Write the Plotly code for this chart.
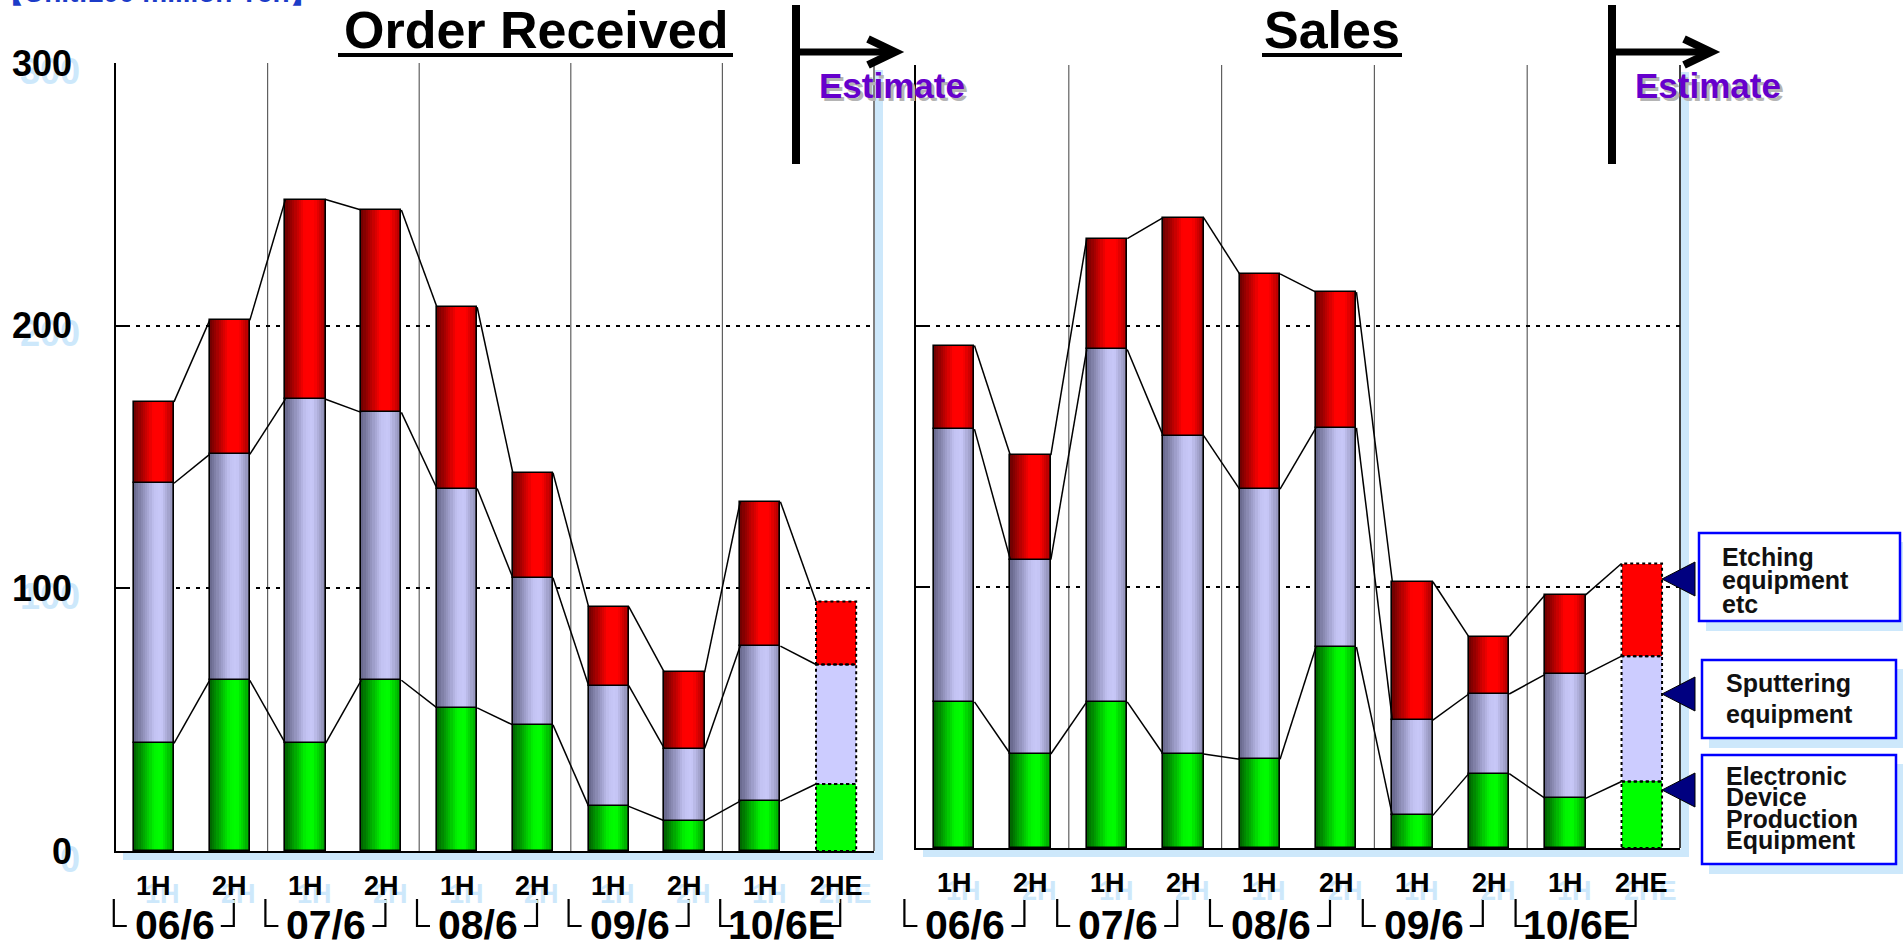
import plotly.graph_objects as go

W, H = 1903, 950

# ---- data (100 million yen) ----
periods = ["1H", "2H", "1H", "2H", "1H", "2H", "1H", "2H", "1H", "2HE"]
years = ["06/6", "07/6", "08/6", "09/6", "10/6E"]

order_device = [41, 65, 41, 65, 54.5, 48, 17, 11.5, 19, 25.5]
order_sputter = [99, 86, 131, 102, 83.5, 56, 46, 27.5, 59, 45.5]
order_etching = [31, 51, 76, 77, 69, 40, 30, 29, 55, 24]

sales_device = [56, 36, 56, 36, 34, 77, 12.5, 28.5, 19, 25.5]
sales_sputter = [104.5, 74.5, 135, 122, 103.5, 84, 36.5, 30.5, 47.5, 48]
sales_etching = [32, 40, 42.5, 83.5, 82.5, 52, 53, 22, 30.5, 35.5]

legend_labels = [
    ["Etching", "equipment", "etc"],
    ["Sputtering", "equipment"],
    ["Electronic", "Device", "Production", "Equipment"],
]

# ---- styling ----
FONT = "Arial, Liberation Sans, sans-serif"
SHADOW = "#cde8fb"
BW = 0.53          # bar width in category units
NSTRIPE = 18       # stripes used to shade each bar like a cylinder

GRAD_GREEN = [(0, "#006000"), (0.5, "#00f400"), (0.68, "#00ff00"), (1, "#009800")]
GRAD_PURPLE = [(0, "#66668a"), (0.5, "#c2c2f2"), (0.68, "#c8c8f8"), (1, "#8888ae")]
GRAD_RED = [(0, "#6a0000"), (0.48, "#ff0000"), (0.72, "#ff0000"), (1, "#a00000")]
FLAT = {"green": "#00ff00", "purple": "#ccccff", "red": "#ff0000"}


def px(x):
    return x / W


def py(y):
    return 1 - y / H


def hex2rgb(h):
    h = h.lstrip("#")
    return [int(h[i:i + 2], 16) for i in (0, 2, 4)]


def grad(stops, t):
    for (t0, c0), (t1, c1) in zip(stops[:-1], stops[1:]):
        if t0 <= t <= t1:
            f = 0 if t1 == t0 else (t - t0) / (t1 - t0)
            a, b = hex2rgb(c0), hex2rgb(c1)
            r = [round(a[i] + (b[i] - a[i]) * f) for i in range(3)]
            return "rgb(%d,%d,%d)" % tuple(r)
    return stops[-1][1]


fig = go.Figure()

# plot areas in pixel terms: (left, right, y of 0, y of 300)
PANELS = {
    "left": dict(x0=116, x1=874, y0=851, y300=63, xa="x", ya="y"),
    "right": dict(x0=916, x1=1680, y0=848, y300=65, xa="x2", ya="y2"),
}


def add_panel(p, device, sputter, etching):
    n = len(periods)
    xs = list(range(n))
    xa, ya = p["xa"], p["ya"]
    segs = [(device, GRAD_GREEN, FLAT["green"]),
            (sputter, GRAD_PURPLE, FLAT["purple"]),
            (etching, GRAD_RED, FLAT["red"])]
    base = [0.0] * n
    levels = []
    for vals, stops, flat in segs:
        top = [b + v for b, v in zip(base, vals)]
        sw = BW / NSTRIPE
        for k in range(NSTRIPE):
            t = (k + 0.5) / NSTRIPE
            w = sw if k == NSTRIPE - 1 else sw * 1.6
            fig.add_bar(x=xs[:-1], y=vals[:-1], base=base[:-1], width=w,
                        offset=-BW / 2 + k * sw,
                        marker=dict(color=grad(stops, t), line=dict(width=0)),
                        xaxis=xa, yaxis=ya, showlegend=False, hoverinfo="skip")
        # outlines of the actual bars
        fig.add_bar(x=xs[:-1], y=vals[:-1], base=base[:-1], width=BW, offset=-BW / 2,
                    marker=dict(color="rgba(0,0,0,0)", line=dict(color="black", width=1.6)),
                    xaxis=xa, yaxis=ya, showlegend=False, hoverinfo="skip")
        # estimate bar: flat fill with dashed outline
        fig.add_bar(x=[xs[-1]], y=[vals[-1]], base=[base[-1]], width=BW, offset=-BW / 2,
                    marker=dict(color=flat, line=dict(width=0)),
                    xaxis=xa, yaxis=ya, showlegend=False, hoverinfo="skip")
        xl, xr = xs[-1] - BW / 2, xs[-1] + BW / 2
        fig.add_scatter(x=[xl, xr, xr, xl, xl], y=[base[-1], base[-1], top[-1], top[-1], base[-1]],
                        mode="lines", line=dict(color="black", width=2, dash="3px,3px"),
                        xaxis=xa, yaxis=ya, showlegend=False, hoverinfo="skip")
        levels.append(top)
        base = top
    # series lines joining consecutive bar tops
    for top in levels:
        lx, ly = [], []
        for i in range(n - 1):
            lx += [xs[i] + BW / 2, xs[i + 1] - BW / 2, None]
            ly += [top[i], top[i + 1], None]
        fig.add_scatter(x=lx, y=ly, mode="lines", line=dict(color="black", width=1.5),
                        xaxis=xa, yaxis=ya, showlegend=False, hoverinfo="skip")


add_panel(PANELS["left"], order_device, order_sputter, order_etching)
add_panel(PANELS["right"], sales_device, sales_sputter, sales_etching)

shapes = []
annotations = []


def line(x0, y0, x1, y1, color="black", width=2, layer="above"):
    shapes.append(dict(type="line", xref="paper", yref="paper",
                       x0=px(x0), y0=py(y0), x1=px(x1), y1=py(y1),
                       line=dict(color=color, width=width), layer=layer))


def rect(x0, y0, x1, y1, fill, lc=None, lw=0, layer="above"):
    shapes.append(dict(type="rect", xref="paper", yref="paper",
                       x0=px(x0), y0=py(y0), x1=px(x1), y1=py(y1),
                       fillcolor=fill, line=dict(color=lc or fill, width=lw), layer=layer))


def path(points, fill=None, lc="black", lw=1, closed=False):
    d = "M " + " L ".join("%f,%f" % (px(x), py(y)) for x, y in points)
    if closed:
        d += " Z"
    shapes.append(dict(type="path", xref="paper", yref="paper", path=d,
                       fillcolor=fill if fill else "rgba(0,0,0,0)",
                       line=dict(color=lc, width=lw)))


def text(s, x, y, size, color="black", xanchor="center", xref="paper", yref="paper",
         xshift=0, yshift=0, weight="bold"):
    annotations.append(dict(text=s, x=x, y=y, xref=xref, yref=yref, xanchor=xanchor,
                            yanchor="middle", showarrow=False, xshift=xshift, yshift=yshift,
                            font=dict(family=FONT, size=size, color=color, weight=weight)))


axis_layout = {}
for key, p in PANELS.items():
    xa_name = "xaxis" if p["xa"] == "x" else "xaxis2"
    ya_name = "yaxis" if p["ya"] == "y" else "yaxis2"
    axis_layout[xa_name] = dict(domain=[px(p["x0"]), px(p["x1"])], range=[-0.5, len(periods) - 0.5],
                                showticklabels=False, showgrid=False, zeroline=False,
                                showline=True, linecolor="black", linewidth=2,
                                anchor=p["ya"], fixedrange=True)
    axis_layout[ya_name] = dict(domain=[py(p["y0"]), py(p["y300"])], range=[0, 300],
                                tickvals=[0, 100, 200, 300], showticklabels=False,
                                ticks="inside", ticklen=13, tickwidth=1.5, tickcolor="black",
                                showgrid=True, gridcolor="black", gridwidth=1.6, griddash="4px,6px",
                                zeroline=False, showline=True, linecolor="black", linewidth=2,
                                anchor=p["xa"], fixedrange=True)

    # light-blue drop shadow along bottom and right of the plot frame
    rect(p["x0"] + 7, p["y0"] + 1, p["x1"] + 9, p["y0"] + 9, SHADOW, layer="below")
    rect(p["x1"] + 1, p["y300"] + 7, p["x1"] + 9, p["y0"] + 9, SHADOW, layer="below")

    # year separators and right border
    for xv in [1.5, 3.5, 5.5, 7.5]:
        shapes.append(dict(type="line", xref=p["xa"], yref=p["ya"] + " domain", x0=xv, x1=xv,
                           y0=0, y1=1, line=dict(color="#606060", width=1.2), layer="below"))
    shapes.append(dict(type="line", xref=p["xa"] + " domain", yref=p["ya"] + " domain", x0=1, x1=1,
                       y0=0, y1=1, line=dict(color="#555555" if key == "left" else "black", width=1.5)))

    # half-year labels with their light-blue shadow
    lab_y = py(p["y0"] + 35)
    for i, s in enumerate(periods):
        text(s, i, lab_y, 27, color=SHADOW, xref=p["xa"], xshift=9, yshift=-8)
    for i, s in enumerate(periods):
        text(s, i, lab_y, 27, xref=p["xa"])

    # fiscal-year labels with corner brackets
    slot = (p["x1"] - p["x0"]) / len(periods)
    off = -17 if key == "left" else -27
    for g, yr in enumerate(years):
        cx = p["x0"] + (2 * g + 1) * slot + off
        text(yr, px(cx), py(925), 41)
        path([(cx - 61, 899), (cx - 61, 926), (cx - 48, 926)], lw=2.2)
        path([(cx + 46, 926), (cx + 59, 926), (cx + 59, 899)], lw=2.2)

# y tick labels (left panel only) with shadow
for v in [0, 100, 200, 300]:
    yy = py(851 - v * (851 - 63) / 300)
    text(str(v), px(74), yy, 36, color=SHADOW, xanchor="right", xshift=8, yshift=-8)
    text(str(v), px(74), yy, 36, xanchor="right")

# titles
text("Order Received", px(535.5), py(30), 52)
line(338, 55, 733, 55, width=4)
text("Sales", px(1332), py(30), 52)
line(1262, 55, 1402, 55, width=4)

# unit note, mostly above the top edge
text("【Unit:100 million Yen】", px(320), py(-8), 28, color="#1c3cc8", xanchor="right")

# "Estimate" markers
for vx, tx in [(796, 817), (1612, 1633)]:
    line(vx, 5, vx, 164, width=8)
    line(vx, 52, vx + 98, 52, width=7)
    path([(vx + 72, 39), (vx + 99, 52), (vx + 72, 65)], lw=8)
    text("Estimate", px(tx), py(85), 35, color="#b4b4b4", xanchor="left", xshift=3, yshift=-3)
    text("Estimate", px(tx), py(85), 35, color="#6600cc", xanchor="left")

# legend callouts
boxes = [
    dict(box=(1699, 533, 1900, 621), tri=579, tx=1720, lines=[556.5, 580, 603.5]),
    dict(box=(1702, 660, 1896, 738), tri=694, tx=1724, lines=[683, 714]),
    dict(box=(1702, 755, 1896, 864), tri=790, tx=1724, lines=[776, 797, 818.5, 840]),
]
for b, labels in zip(boxes, legend_labels):
    x0, y0, x1, y1 = b["box"]
    rect(x0 + 7, y0 + 9, x1 + 9, y1 + 10, SHADOW)
    rect(x0, y0, x1, y1, "white", lc="#0000ff", lw=2.5)
    t = b["tri"]
    path([(1662, t), (1695, t - 17), (1695, t + 17)], fill="#000080", lc="black", lw=1, closed=True)
    for s, ly in zip(labels, b["lines"]):
        text(s, px(b["tx"]), py(ly), 25, color="#111111", xanchor="left")

fig.update_layout(
    width=W, height=H, margin=dict(l=0, r=0, t=0, b=0),
    paper_bgcolor="white", plot_bgcolor="white",
    barmode="overlay", bargap=0, showlegend=False,
    shapes=shapes, annotations=annotations,
    **axis_layout,
)

fig.write_html("out.html")
